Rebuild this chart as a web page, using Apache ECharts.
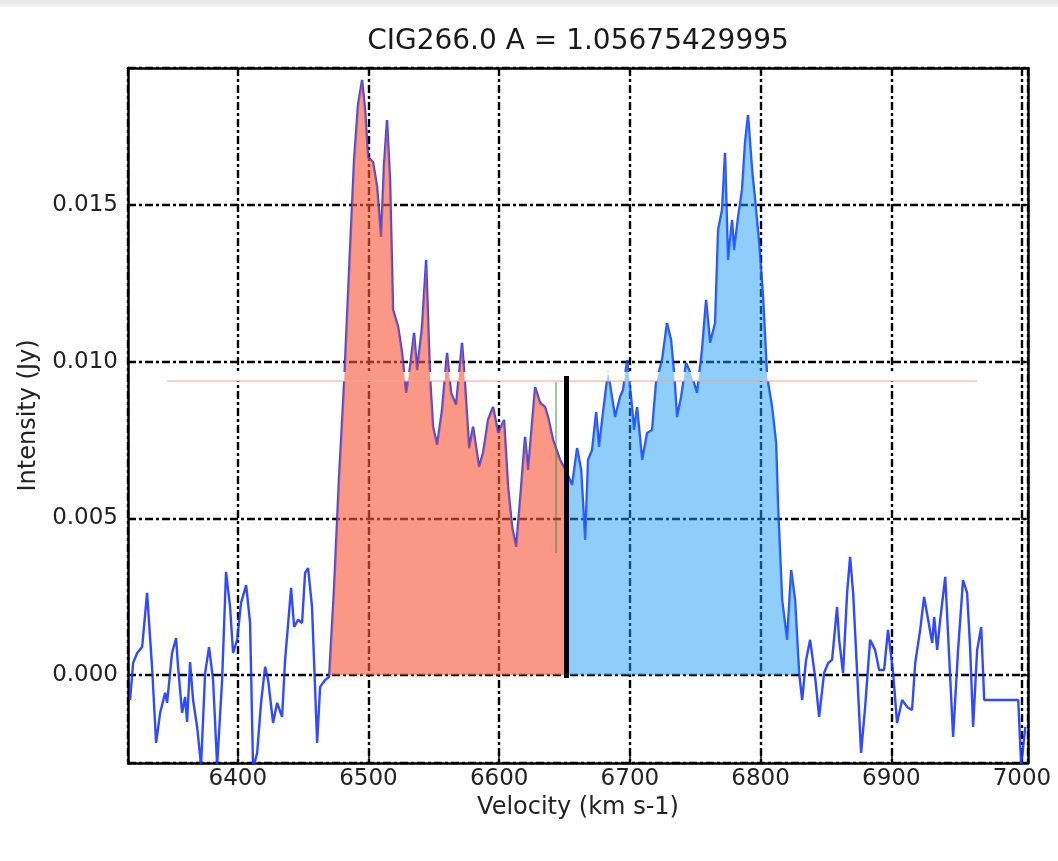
<!DOCTYPE html>
<html>
<head>
<meta charset="utf-8">
<title>CIG266.0</title>
<style>
html,body{margin:0;padding:0;background:#fff;width:100%;height:100%;}
#main{width:1058px;height:861px;}
</style>
</head>
<body>
<div id="main"></div>
<script src="https://cdn.jsdelivr.net/npm/echarts@6/dist/echarts.min.js"></script>
<script>
// spectrum
var titleText = 'CIG266.0 A = 1.05675429995';
var velocity = [
  6317.6, 6319.9, 6323.0, 6326.8, 6330.6, 6334.4, 6337.5, 6340.6, 6344.4, 6345.9,
  6349.7, 6352.8, 6354.3, 6357.4, 6359.7, 6361.2, 6363.5, 6365.8, 6368.9, 6371.9,
  6375.0, 6378.0, 6381.1, 6384.2, 6388.0, 6391.0, 6394.1, 6396.4, 6399.5, 6402.5,
  6406.4, 6409.4, 6411.7, 6414.8, 6417.8, 6420.9, 6423.2, 6427.0, 6430.1, 6433.9,
  6436.2, 6440.8, 6443.1, 6446.1, 6449.2, 6451.5, 6453.8, 6456.8, 6460.7, 6463.0,
  6466.8, 6469.9, 6473.6, 6477.4, 6481.3, 6485.2, 6489.0, 6492.0, 6495.1, 6497.4,
  6499.7, 6503.5, 6506.6, 6509.6, 6511.9, 6514.2, 6516.5, 6518.8, 6522.7, 6525.7,
  6528.8, 6531.8, 6534.9, 6537.2, 6541.0, 6544.1, 6547.1, 6549.4, 6552.5, 6556.3,
  6560.1, 6563.2, 6567.0, 6571.6, 6573.9, 6577.0, 6580.0, 6584.6, 6587.7, 6591.5,
  6595.3, 6599.2, 6603.7, 6606.8, 6609.9, 6613.0, 6616.0, 6619.8, 6622.1, 6627.5,
  6631.3, 6635.1, 6637.4, 6641.2, 6646.6, 6651.5, 6655.8, 6659.6, 6662.7, 6665.8,
  6668.0, 6671.1, 6674.2, 6676.4, 6679.5, 6683.3, 6688.7, 6692.5, 6694.8, 6697.9,
  6700.9, 6703.2, 6705.5, 6709.4, 6713.2, 6717.0, 6720.0, 6724.6, 6728.4, 6731.5,
  6733.8, 6736.1, 6739.2, 6743.0, 6747.6, 6751.4, 6755.2, 6758.3, 6761.4, 6765.2,
  6767.5, 6770.5, 6772.8, 6775.1, 6778.2, 6779.7, 6782.8, 6785.8, 6788.1, 6790.4,
  6793.5, 6795.8, 6798.9, 6801.9, 6805.0, 6808.8, 6811.9, 6813.4, 6816.5, 6820.3,
  6823.4, 6826.4, 6829.5, 6831.8, 6834.8, 6837.9, 6841.7, 6844.8, 6848.6, 6851.7,
  6854.7, 6858.5, 6860.1, 6863.1, 6866.2, 6868.5, 6870.8, 6873.9, 6876.9, 6880.0,
  6883.8, 6887.6, 6890.7, 6894.5, 6897.5, 6901.4, 6904.4, 6908.3, 6912.1, 6915.9,
  6918.3, 6922.1, 6925.1, 6928.2, 6931.3, 6932.8, 6935.1, 6937.4, 6941.3, 6944.3,
  6947.3, 6951.1, 6954.9, 6958.0, 6960.3, 6962.6, 6965.7, 6968.8, 6971.1, 6997.1,
  6999.4, 7002.5
];
var intensity = [
  -0.00080, 0.00038, 0.00070, 0.00089, 0.00262, 0.00026, -0.00217, -0.00121, -0.00057, -0.00089,
  0.00070, 0.00118, 0.00026, -0.00121, -0.00070, -0.00150, 0.00041, -0.00080, -0.00166, -0.00290,
  0.00006, 0.00089, -0.00016, -0.00290, -0.00016, 0.00329, 0.00217, 0.00070, 0.00112, 0.00230,
  0.00287, 0.00166, -0.00300, -0.00249, -0.00089, 0.00026, -0.00016, -0.00153, -0.00089, -0.00134,
  0.00048, 0.00278, 0.00153, 0.00176, 0.00166, 0.00326, 0.00341, 0.00217, -0.00217, -0.00038,
  -0.00016, -0.00006, 0.00271, 0.00622, 0.00926, 0.01293, 0.01644, 0.01819, 0.01899, 0.01803,
  0.01653, 0.01637, 0.01557, 0.01398, 0.01628, 0.01771, 0.01580, 0.01165, 0.01111, 0.01028,
  0.00900, 0.00983, 0.01092, 0.00973, 0.01111, 0.01324, 0.00951, 0.00792, 0.00734, 0.00846,
  0.01028, 0.00900, 0.00862, 0.01060, 0.00926, 0.00724, 0.00792, 0.00664, 0.00709, 0.00814,
  0.00855, 0.00772, 0.00814, 0.00600, 0.00472, 0.00409, 0.00559, 0.00760, 0.00654, 0.00919,
  0.00868, 0.00855, 0.00823, 0.00750, 0.00686, 0.00648, 0.00606, 0.00724, 0.00654, 0.00431,
  0.00686, 0.00718, 0.00839, 0.00728, 0.00839, 0.00967, 0.00823, 0.00887, 0.00910, 0.01005,
  0.00887, 0.00782, 0.00855, 0.00686, 0.00772, 0.00782, 0.00932, 0.01005, 0.01123, 0.01069,
  0.00964, 0.00823, 0.00887, 0.00996, 0.00951, 0.00900, 0.01037, 0.01197, 0.01060, 0.01123,
  0.01420, 0.01484, 0.01666, 0.01324, 0.01452, 0.01356, 0.01462, 0.01548, 0.01698, 0.01787,
  0.01612, 0.01516, 0.01379, 0.01206, 0.00951, 0.00855, 0.00740, 0.00536, 0.00239, 0.00112,
  0.00335, 0.00239, 0.00006, -0.00080, 0.00048, 0.00112, -0.00006, -0.00134, 0.00006, 0.00038,
  0.00048, 0.00217, 0.00112, 0.00006, 0.00262, 0.00377, 0.00262, 0.00006, -0.00249, -0.00102,
  0.00112, 0.00080, 0.00016, 0.00016, 0.00144, 0.00006, -0.00153, -0.00080, -0.00102, -0.00112,
  0.00038, 0.00144, 0.00249, 0.00176, 0.00102, 0.00185, 0.00080, 0.00176, 0.00313, 0.00057,
  -0.00198, 0.00080, 0.00303, 0.00262, 0.00089, -0.00166, 0.00080, 0.00153, -0.00080, -0.00080,
  -0.00290, -0.00166
];

// integration window and split
var redStart = 6469.9;
var splitVel = 6651.5;
var blueEnd = 6829.5;

// overlay marks
var splitLineV = [6651.5, 6651.5], splitLineI = [-0.0001, 0.00954];
var greenV = [6643.5, 6643.5], greenI = [0.00389, 0.00935];
var levelV = [6346, 6965.7], levelI = [0.00938, 0.00938];
var bandV = [6346, 6965.7], bandI = [0.00938, 0.00967];

// axis ranges
var xMin = 6316, xMax = 7004.6;
var yMin = -0.00281, yMax = 0.01937;

var spec = velocity.map(function (v, i) { return [v, intensity[i]]; });
var redPart = spec.filter(function (p) { return p[0] >= redStart && p[0] <= splitVel; });
var bluePart = spec.filter(function (p) { return p[0] >= splitVel && p[0] <= blueEnd; });

var font = 'DejaVu Sans';
var gridDash = [8, 3, 3, 3];

var chart = echarts.init(document.getElementById('main'));

var option = {
  backgroundColor: '#fff',
  animation: false,
  textStyle: { fontFamily: font },
  grid: { left: 128, top: 68, width: 900, height: 695, outerBoundsMode: 'none', containLabel: false },
  graphic: [
    { type: 'rect', left: 0, top: 0, shape: { width: 1058, height: 7 },
      style: { fill: new echarts.graphic.LinearGradient(0, 0, 0, 1, [
        { offset: 0, color: '#e4e4e4' }, { offset: 1, color: '#f4f4f4' }]) } },
    { type: 'text', x: 578, y: 28,
      style: { text: titleText, font: '28px "DejaVu Sans"', fill: '#1a1a1a', align: 'center', verticalAlign: 'top' } }
  ],
  xAxis: [{
    type: 'value', min: xMin, max: xMax, splitNumber: 7, position: 'bottom',
    name: 'Velocity (km s-1)', nameLocation: 'middle', nameGap: 32,
    nameTextStyle: { fontSize: 24, color: '#222', fontFamily: font },
    axisLine: { show: true, onZero: false, lineStyle: { color: '#000', width: 2.5 } },
    axisTick: { show: true, inside: true, length: 7, lineStyle: { color: '#000', width: 1.5 } },
    axisLabel: { fontSize: 23, color: '#222', margin: 5, showMinLabel: false, showMaxLabel: false, fontFamily: font,
      formatter: function (v) { return String(v); } },
    splitLine: { show: true, lineStyle: { color: '#000', width: 2.4, type: gridDash } }
  }, {
    type: 'value', min: xMin, max: xMax, splitNumber: 7, position: 'top',
    axisLine: { show: true, onZero: false, lineStyle: { color: '#000', width: 2.5 } },
    axisTick: { show: true, inside: true, length: 7, lineStyle: { color: '#000', width: 1.5 } },
    axisLabel: { show: false },
    splitLine: { show: false }
  }],
  yAxis: [{
    type: 'value', min: yMin, max: yMax, splitNumber: 5, position: 'left',
    name: 'Intensity (Jy)', nameLocation: 'middle', nameGap: 87, nameRotate: 90,
    nameTextStyle: { fontSize: 24, color: '#222', fontFamily: font },
    axisLine: { show: true, onZero: false, lineStyle: { color: '#000', width: 2.5 } },
    axisTick: { show: true, inside: true, length: 7, lineStyle: { color: '#000', width: 1.5 } },
    axisLabel: { fontSize: 23, color: '#222', margin: 10, showMinLabel: false, showMaxLabel: false, fontFamily: font,
      formatter: function (v) { return v.toFixed(3); } },
    splitLine: { show: true, lineStyle: { color: '#000', width: 2.4, type: gridDash } }
  }, {
    type: 'value', min: yMin, max: yMax, splitNumber: 5, position: 'right',
    axisLine: { show: true, onZero: false, lineStyle: { color: '#000', width: 2.5 } },
    axisTick: { show: true, inside: true, length: 7, lineStyle: { color: '#000', width: 1.5 } },
    axisLabel: { show: false },
    splitLine: { show: false }
  }],
  series: [
    { name: 'spectrum', type: 'line', data: spec, showSymbol: false, z: 2, silent: true,
      lineStyle: { color: '#1a36ff', width: 2.4, opacity: 0.9 } },
    { name: 'band', type: 'custom', z: 3, silent: true,
      data: [[bandV[0], bandV[1], bandI[0], bandI[1]]],
      encode: { x: [0, 1], y: [2, 3] },
      renderItem: function (params, api) {
        var p0 = api.coord([api.value(0), api.value(3)]);
        var p1 = api.coord([api.value(1), api.value(2)]);
        return { type: 'rect', shape: { x: p0[0], y: p0[1], width: p1[0] - p0[0], height: p1[1] - p0[1] },
          style: { fill: '#fff' } };
      } },
    { name: 'approaching', type: 'line', data: redPart, showSymbol: false, z: 4, silent: true,
      lineStyle: { width: 0 }, areaStyle: { color: 'rgba(247,88,58,0.62)', opacity: 1, origin: 'auto' } },
    { name: 'receding', type: 'line', data: bluePart, showSymbol: false, z: 4, silent: true,
      lineStyle: { width: 0 }, areaStyle: { color: 'rgba(32,156,246,0.5)', opacity: 1, origin: 'auto' } },
    { name: 'level', type: 'line', data: [[levelV[0], levelI[0]], [levelV[1], levelI[1]]], showSymbol: false, z: 5, silent: true,
      lineStyle: { color: '#f3a496', width: 1 } },
    { name: 'green', type: 'line', data: [[greenV[0], greenI[0]], [greenV[1], greenI[1]]], showSymbol: false, z: 5, silent: true,
      lineStyle: { color: 'rgba(40,140,40,0.45)', width: 2 } },
    { name: 'split', type: 'line', data: [[splitLineV[0], splitLineI[0]], [splitLineV[1], splitLineI[1]]], showSymbol: false, z: 6, silent: true,
      lineStyle: { color: '#000', width: 5 } }
  ]
};

chart.setOption(option);
</script>
</body>
</html>
